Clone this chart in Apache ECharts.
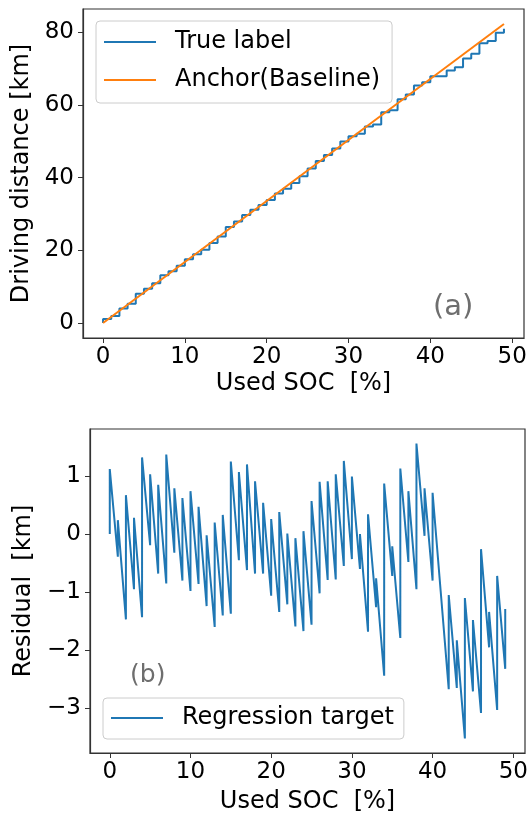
<!DOCTYPE html>
<html>
<head>
<meta charset="utf-8">
<script src="https://cdn.jsdelivr.net/npm/echarts@6/dist/echarts.min.js"></script>
<style>
html,body{margin:0;padding:0;background:#fff;}
#chart{width:530px;height:815px;}
</style>
</head>
<body>
<div id="chart"></div>
<script>
// ---- data ----
const soc = [0,1,2,3,4,5,6,7,8,9,10,11,12,13,14,15,16,17,18,19,20,21,22,23,24,25,26,27,28,29,30,31,32,33,34,35,36,37,38,39,40,41,42,43,44,45,46,47,48,49];
const trueLabelStart = 0;
const trueLabel = [1.12,1.92,4.03,5.32,8.04,9.43,10.93,13.13,14.23,15.74,
  17.54,18.95,20.14,22.04,23.85,26.45,27.95,29.76,31.15,32.46,
  33.86,35.66,36.97,38.57,40.37,42.57,44.58,46.27,48.07,49.98,
  51.39,52.08,54.10,54.68,57.99,58.59,61.61,62.90,65.40,66.31,
  67.91,67.91,69.51,70.41,72.82,74.12,77.02,77.62,79.92,81.03];
const anchorSoc = [0, 49];
const anchorDist = [0, 82.32];
const residualBefore = [0,-0.39,-1.47,-0.95,-1.43,-0.19,-0.68,-0.85,-0.32,-0.80,
  -0.98,-0.86,-1.24,-1.60,-1.40,-1.37,-0.45,-0.62,-0.68,-0.68,
  -1.06,-1.34,-1.21,-1.59,-1.67,-1.56,-1.02,-0.79,-0.78,-0.55,
  -0.43,-0.60,-1.68,-1.26,-2.44,-0.72,-1.79,-0.48,-0.95,-0.03,
  -0.80,-0.98,-2.67,-2.65,-3.52,-2.71,-3.08,-1.95,-3.03,-2.32];
const residualAfter = [1.12,0.24,0.67,0.28,1.32,1.03,0.85,1.37,0.79,0.62,
  0.74,0.47,-0.02,0.20,0.33,1.25,1.07,1.20,0.91,0.54,
  0.26,0.38,0.01,-0.07,0.05,0.57,0.90,0.91,1.03,1.26,
  0.99,0.00,0.34,-0.76,0.87,-0.21,1.13,0.74,1.56,0.79,
  0.71,-0.98,-1.05,-1.83,-1.10,-1.48,-0.26,-1.34,-0.72,-1.29];
const xTicks = [0,10,20,30,40,50];
const yTicksTop = [0,20,40,60,80];
const yTicksBottom = [-3,-2,-1,0,1];
const xName = 'Used SOC  [%]';
const yNameTop = 'Driving distance [km]';
const yNameBottom = 'Residual  [km]';
const panelLabels = ['(a)', '(b)'];

// ---- build ----
const FONT = 'DejaVu Sans';
const BLUE = '#1f77b4', ORANGE = '#ff7f0e';
const fmt = v => (v < 0 ? '\u2212' + Math.abs(v) : String(v));

const trueData = [[soc[0], trueLabelStart]].concat(soc.map((x, i) => [x, trueLabel[i]]));
const anchorData = anchorSoc.map((x, i) => [x, anchorDist[i]]);
const residData = [];
soc.forEach((x, i) => { residData.push([x, residualBefore[i]]); residData.push([x, residualAfter[i]]); });

function xAxisCfg(gi, min, max, gap) {
  return {
    type: 'value', gridIndex: gi, min: min, max: max, position: 'bottom',
    name: xName, nameLocation: 'middle', nameGap: gap,
    nameTextStyle: {fontFamily: FONT, fontSize: 24, color: '#000'},
    axisLine: {show: true, onZero: false, lineStyle: {color: '#333', width: 1.2}},
    axisTick: {show: true, length: 5, customValues: xTicks, lineStyle: {color: '#333', width: 1}},
    axisLabel: {customValues: xTicks, fontFamily: FONT, fontSize: 23, color: '#000', margin: 8, formatter: fmt},
    splitLine: {show: false}
  };
}
function yAxisCfg(gi, min, max, ticks, name, gap) {
  return {
    type: 'value', gridIndex: gi, min: min, max: max, position: 'left',
    name: name, nameLocation: 'middle', nameGap: gap, nameRotate: 90,
    nameTextStyle: {fontFamily: FONT, fontSize: 24, color: '#000'},
    axisLine: {show: true, onZero: false, lineStyle: {color: '#333', width: 1.2}},
    axisTick: {show: true, length: 5, customValues: ticks, lineStyle: {color: '#333', width: 1}},
    axisLabel: {customValues: ticks, fontFamily: FONT, fontSize: 23, color: '#000', margin: 9, formatter: fmt},
    splitLine: {show: false}
  };
}

const chart = echarts.init(document.getElementById('chart'), null, {renderer: 'canvas'});
const legendCommon = {
  orient: 'vertical', icon: 'rect', itemWidth: 52, itemHeight: 2, itemGap: 10,
  backgroundColor: 'rgba(255,255,255,0.8)', borderColor: '#cccccc', borderWidth: 1, borderRadius: 4,
  textStyle: {fontFamily: FONT, fontSize: 24, color: '#000', padding: [0, 0, 0, 14], lineHeight: 28}
};
chart.setOption({
  animation: false,
  backgroundColor: '#fff',
  grid: [
    {left: 83, top: 9, width: 441, height: 329, show: true, borderColor: '#333', borderWidth: 1.2, containLabel: false, outerBoundsMode: 'none'},
    {left: 90, top: 429, width: 435, height: 324, show: true, borderColor: '#333', borderWidth: 1.2, containLabel: false, outerBoundsMode: 'none'}
  ],
  xAxis: [xAxisCfg(0, -2.45, 51.45, 34), xAxisCfg(1, -2.45, 51.45, 37)],
  yAxis: [yAxisCfg(0, -4.12, 86.44, yTicksTop, yNameTop, 39), yAxisCfg(1, -3.77, 1.81, yTicksBottom, yNameBottom, 45)],
  legend: [
    Object.assign({}, legendCommon, {data: ['True label', 'Anchor(Baseline)'], left: 96, top: 21, padding: [7, 12, 9, 8]}),
    Object.assign({}, legendCommon, {data: ['Regression target'], left: 103, top: 698, padding: [6, 10, 7, 8]})
  ],
  series: [
    {name: 'True label', type: 'line', xAxisIndex: 0, yAxisIndex: 0, step: 'end', data: trueData,
     showSymbol: false, color: BLUE, lineStyle: {width: 2, color: BLUE}, z: 2},
    {name: 'Anchor(Baseline)', type: 'line', xAxisIndex: 0, yAxisIndex: 0, data: anchorData,
     showSymbol: false, color: ORANGE, lineStyle: {width: 2, color: ORANGE}, z: 3},
    {name: 'Regression target', type: 'line', xAxisIndex: 1, yAxisIndex: 1, data: residData,
     showSymbol: false, color: BLUE, lineStyle: {width: 2, color: BLUE}, z: 2}
  ]
});

// panel labels placed in data coordinates
const pa = chart.convertToPixel({gridIndex: 0}, [42.8, 4.2]);
const pb = chart.convertToPixel({gridIndex: 1}, [4.7, -2.43]);
chart.setOption({
  graphic: [
    {type: 'text', x: pa[0], y: pa[1], style: {text: panelLabels[0], fontFamily: FONT, fontSize: 29, fill: '#6e6e6e', align: 'center', verticalAlign: 'middle'}},
    {type: 'text', x: pb[0], y: pb[1], style: {text: panelLabels[1], fontFamily: FONT, fontSize: 25, fill: '#6e6e6e', align: 'center', verticalAlign: 'middle'}}
  ]
});
</script>
</body>
</html>
